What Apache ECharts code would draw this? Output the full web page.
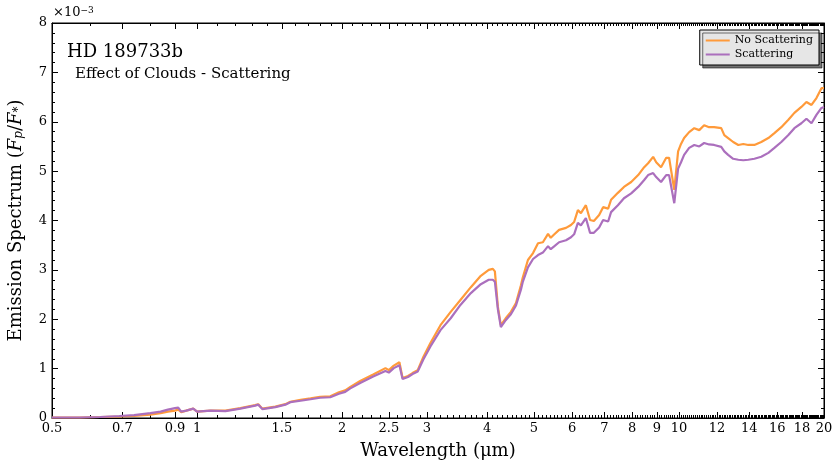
<!DOCTYPE html>
<html>
<head>
<meta charset="utf-8">
<script src="https://cdn.jsdelivr.net/npm/echarts@6/dist/echarts.min.js"></script>
<style>
  html, body { margin: 0; padding: 0; background: #fff; }
  #charts { width: 840px; height: 467px; }
</style>
</head>
<body>
<div id="charts"></div>
<script>
// wavelength in micron
var wavelength = [0.50, 0.57, 0.63, 0.69, 0.74, 0.80, 0.84, 0.87, 0.90, 0.914, 0.927, 0.95, 0.982, 1.00,
    1.066, 1.145, 1.23, 1.32, 1.34, 1.366, 1.454, 1.525, 1.562, 1.64, 1.72, 1.80, 1.89, 1.97, 2.03,
    2.08, 2.18, 2.32, 2.46, 2.50, 2.56, 2.63, 2.67, 2.74, 2.80, 2.87, 2.95, 3.05, 3.20, 3.36, 3.52,
    3.70, 3.88, 4.03, 4.11, 4.15, 4.21, 4.27, 4.37, 4.48, 4.59, 4.70, 4.74, 4.86, 4.98, 5.10, 5.22,
    5.35, 5.42, 5.50, 5.64, 5.83, 5.97, 6.06, 6.17, 6.26, 6.41, 6.54, 6.66, 6.83, 6.96, 7.13, 7.23,
    7.47, 7.69, 7.96, 8.23, 8.47, 8.63, 8.84, 8.97, 9.18, 9.41, 9.54, 9.78, 9.96, 10.1, 10.25, 10.5,
    10.76, 11.02, 11.28, 11.55, 11.83, 12.24, 12.42, 12.65, 12.96, 13.28, 13.6, 13.93, 14.34, 14.82,
    15.33, 15.78, 16.31, 16.87, 17.36, 17.95, 18.39, 18.84, 19.29, 19.76, 20.0];

// Fp/F* in units of 1e-3
var noScattering = [0.01, 0.01, 0.02, 0.03, 0.04, 0.07, 0.10, 0.13, 0.15, 0.17, 0.12, 0.15, 0.19, 0.13,
    0.15, 0.15, 0.20, 0.26, 0.28, 0.19, 0.23, 0.28, 0.33, 0.37, 0.40, 0.43, 0.44, 0.52, 0.56,
    0.63, 0.75, 0.88, 1.01, 0.97, 1.06, 1.13, 0.81, 0.85, 0.91, 0.97, 1.24, 1.52, 1.88, 2.15, 2.39,
    2.65, 2.88, 3.00, 3.02, 2.97, 2.25, 1.88, 2.02, 2.15, 2.33, 2.69, 2.84, 3.20, 3.34, 3.54, 3.56,
    3.73, 3.65, 3.71, 3.81, 3.85, 3.91, 3.97, 4.21, 4.15, 4.31, 4.01, 3.99, 4.11, 4.27, 4.24, 4.42,
    4.56, 4.68, 4.78, 4.92, 5.08, 5.16, 5.29, 5.18, 5.08, 5.27, 5.27, 4.62, 5.40, 5.55, 5.67, 5.79,
    5.87, 5.83, 5.93, 5.89, 5.89, 5.87, 5.73, 5.67, 5.59, 5.53, 5.55, 5.53, 5.53, 5.59,
    5.67, 5.77, 5.89, 6.04, 6.18, 6.30, 6.40, 6.34, 6.48, 6.68, 6.68];

var scattering = [0.01, 0.01, 0.02, 0.04, 0.06, 0.10, 0.13, 0.17, 0.20, 0.21, 0.13, 0.15, 0.19, 0.13,
    0.15, 0.14, 0.19, 0.25, 0.27, 0.18, 0.22, 0.27, 0.32, 0.35, 0.38, 0.41, 0.42, 0.49, 0.53,
    0.60, 0.71, 0.84, 0.95, 0.92, 1.01, 1.07, 0.79, 0.83, 0.89, 0.94, 1.19, 1.45, 1.78, 2.02, 2.29,
    2.53, 2.71, 2.80, 2.80, 2.76, 2.20, 1.84, 1.98, 2.10, 2.28, 2.60, 2.75, 3.05, 3.22, 3.30, 3.35,
    3.48, 3.42, 3.47, 3.56, 3.60, 3.66, 3.72, 3.95, 3.90, 4.05, 3.75, 3.75, 3.86, 4.01, 3.98, 4.17,
    4.31, 4.45, 4.55, 4.68, 4.82, 4.92, 4.96, 4.88, 4.78, 4.92, 4.92, 4.35, 5.05, 5.18, 5.33, 5.47,
    5.53, 5.50, 5.57, 5.54, 5.53, 5.49, 5.40, 5.33, 5.25, 5.23, 5.22, 5.23, 5.25, 5.29,
    5.37, 5.47, 5.59, 5.73, 5.87, 5.97, 6.06, 5.97, 6.14, 6.28, 6.30];

var xTickLabels = [0.5, 0.7, 0.9, 1, 1.5, 2, 2.5, 3, 4, 5, 6, 7, 8, 9, 10, 12, 14, 16, 18, 20];

var FONT = 'DejaVu Serif';
var charts;

function toLog(v) {
    return Math.log10(v);
}

function buildPairs(xs, ys) {
    var out = [];
    for (var i = 0; i < xs.length; i++) {
        out.push([toLog(xs[i]), ys[i]]);
    }
    return out;
}

// minor ticks every 0.1 micron
function minorTickValues() {
    var vals = [];
    for (var k = 5; k <= 200; k++) {
        var w = k / 10;
        if (xTickLabels.indexOf(w) < 0) vals.push(toLog(w));
    }
    return vals;
}

function xAxisDef(position, major, showLabel) {
    var values = major ? xTickLabels.map(toLog) : minorTickValues();
    return {
        type: 'value',
        position: position,
        min: toLog(0.5) - 1e-9,
        max: toLog(20) + 1e-9,
        axisLine: { show: major, onZero: false, lineStyle: { color: '#000', width: 1 } },
        splitLine: { show: false },
        axisTick: { inside: true, length: major ? 6 : 3, customValues: values,
            lineStyle: { color: '#000', width: 1 } },
        axisLabel: {
            show: showLabel,
            customValues: values,
            margin: 4,
            color: '#000',
            fontFamily: FONT,
            fontSize: 13,
            formatter: function (v) { return String(+Math.pow(10, v).toFixed(1)); }
        },
        name: showLabel ? 'Wavelength (μm)' : '',
        nameLocation: 'middle',
        nameGap: 24,
        nameTextStyle: { fontFamily: FONT, fontSize: 18, color: '#000' }
    };
}

function yAxisDef(position, showLabel) {
    return {
        type: 'value',
        position: position,
        min: 0,
        max: 8,
        interval: 1,
        axisLine: { show: true, onZero: false, lineStyle: { color: '#000', width: 1 } },
        splitLine: { show: false },
        axisTick: { inside: true, length: 6, lineStyle: { color: '#000' } },
        minorTick: { show: true, splitNumber: 5, length: 3, lineStyle: { color: '#000' } },
        axisLabel: { show: showLabel, margin: 5, color: '#000', fontFamily: FONT, fontSize: 13 },
        name: showLabel ? 'Emission Spectrum ({i|F}{s|p}{n|/}{i|F}{s|*}{n|)}' : '',
        nameLocation: 'middle',
        nameGap: 27,
        nameTextStyle: {
            fontFamily: FONT, fontSize: 18, color: '#000',
            rich: {
                i: { fontFamily: FONT, fontSize: 18, fontStyle: 'italic', color: '#000' },
                s: { fontFamily: FONT, fontSize: 12, fontStyle: 'italic', color: '#000', verticalAlign: 'bottom' },
                n: { fontFamily: FONT, fontSize: 18, color: '#000' }
            }
        }
    };
}

init();

function init() {
    var chartsDoc = document.getElementById('charts');
    charts = echarts.init(chartsDoc, null, { renderer: 'canvas' });
    var option = {
        backgroundColor: '#fff',
        animation: false,
        grid: { left: 52, right: 16, top: 23, bottom: 49, show: true, borderColor: '#000', borderWidth: 1,
            outerBoundsMode: 'none', containLabel: false },
        title: [
            { text: 'HD 189733b', left: 62, top: 38,
              textStyle: { fontFamily: FONT, fontSize: 18, fontWeight: 'normal', color: '#000' } },
            { text: 'Effect of Clouds - Scattering', left: 70, top: 62,
              textStyle: { fontFamily: FONT, fontSize: 15, fontWeight: 'normal', color: '#000' } }
        ],
        graphic: [{
            type: 'text', left: 53, top: 6,
            style: {
                text: '{a|×10}{b|−3}',
                rich: {
                    a: { fontFamily: FONT, fontSize: 13, fill: '#000' },
                    b: { fontFamily: FONT, fontSize: 9, fill: '#000', verticalAlign: 'top' }
                }
            }
        }],
        legend: {
            orient: 'vertical',
            right: 21,
            top: 30,
            padding: [5, 6, 5, 6],
            itemGap: 3,
            itemWidth: 24,
            itemHeight: 2,
            icon: 'rect',
            backgroundColor: '#e6e6e6',
            borderColor: '#000',
            borderWidth: 1,
            shadowColor: 'rgba(0,0,0,0.55)',
            shadowOffsetX: 3,
            shadowOffsetY: 3,
            shadowBlur: 0,
            textStyle: { fontFamily: FONT, fontSize: 11, color: '#000' },
            data: ['No Scattering', 'Scattering']
        },
        xAxis: [
            xAxisDef('bottom', true, true),
            xAxisDef('bottom', false, false),
            xAxisDef('top', true, false),
            xAxisDef('top', false, false)
        ],
        yAxis: [yAxisDef('left', true), yAxisDef('right', false)],
        series: [
            {
                name: 'No Scattering', type: 'line', xAxisIndex: 0, yAxisIndex: 0,
                showSymbol: false, symbol: 'none',
                lineStyle: { color: '#ff9a3a', width: 2.2 }, itemStyle: { color: '#ff9a3a' },
                data: buildPairs(wavelength, noScattering)
            },
            {
                name: 'Scattering', type: 'line', xAxisIndex: 0, yAxisIndex: 0,
                showSymbol: false, symbol: 'none',
                lineStyle: { color: '#ab6fbd', width: 2.2 }, itemStyle: { color: '#ab6fbd' },
                data: buildPairs(wavelength, scattering)
            }
        ]
    };
    charts.setOption(option);
}
</script>
</body>
</html>
